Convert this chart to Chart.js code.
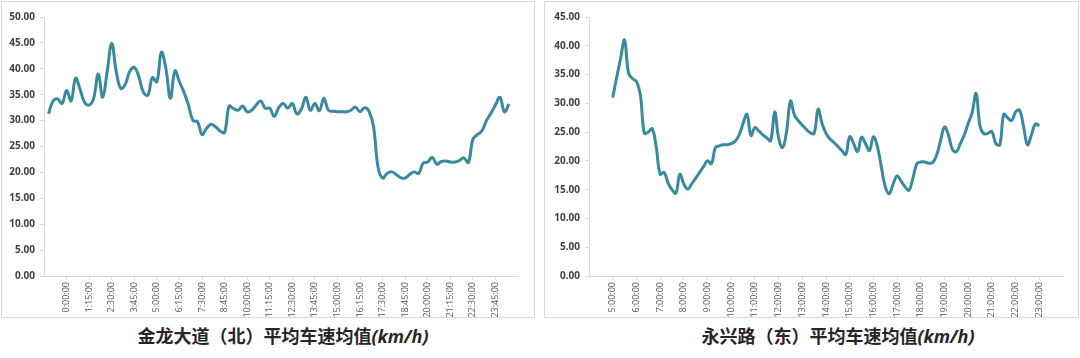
<!DOCTYPE html>
<html>
<head>
<meta charset="utf-8">
<script src="https://cdn.jsdelivr.net/npm/chart.js@4"></script>
<style>
  html, body { margin:0; padding:0; background:#ffffff; }
  body { width:1080px; height:358px; position:relative; overflow:hidden; }
  .box { position:absolute; border:1px solid #d9d9d9; box-sizing:border-box; }
  canvas { position:absolute; }
  .title { position:absolute; width:460px; text-align:center; font-family:"Noto Sans CJK SC", sans-serif; font-weight:700; font-size:18px; line-height:24px; color:#262626; white-space:nowrap; }
  .title i { font-family:"Open Sans","Liberation Sans",sans-serif; font-style:italic; font-weight:700; }
</style>
</head>
<body>
<div class="box" style="left:1px;top:1px;width:534px;height:317px;"></div>
<div class="box" style="left:544px;top:1px;width:535px;height:317px;"></div>
<canvas id="c1" width="536" height="318" style="left:0;top:0;"></canvas>
<canvas id="c2" width="536" height="318" style="left:544px;top:0;"></canvas>
<div class="title" style="left:53px;top:323px;">金龙大道（北）平均车速均值<i>(km/h)</i></div>
<div class="title" style="left:608px;top:323px;">永兴路（东）平均车速均值<i>(km/h)</i></div>
<script>
// ---------- Left chart: 金龙大道（北）, 15-minute samples ----------
const leftTitle = '金龙大道（北）平均车速均值(km/h)';
const leftTickLabels = ['0:00:00','1:15:00','2:30:00','3:45:00','5:00:00','6:15:00','7:30:00','8:45:00',
  '10:00:00','11:15:00','12:30:00','13:45:00','15:00:00','16:15:00','17:30:00','18:45:00',
  '20:00:00','21:15:00','22:30:00','23:45:00'];
// values from 23:00 (previous day) to 0:30 (next day), every 15 minutes
const leftValues = [
  31.3, 33.8, 34.2, 33.3,
  35.8, 33.8, 38.2, 36.0, 33.5, 33.0, 34.3, 39.0, 34.5, 39.5,
  44.9, 39.5, 36.2, 37.0, 39.5, 40.3, 38.5, 35.5, 34.9, 38.3,
  37.5, 43.2, 40.0, 34.3, 39.6, 37.5, 35.5, 33.0, 30.0, 29.8,
  27.3, 28.5, 29.3, 28.8, 28.0, 27.7, 32.8, 32.3, 32.0, 32.8,
  31.7, 32.0, 33.0, 33.8, 32.4, 32.4, 30.8, 32.5, 33.3, 32.4,
  33.3, 31.3, 32.2, 34.5, 32.0, 33.3, 31.9, 34.3, 32.0, 31.8,
  31.7, 31.7, 31.7, 32.0, 32.6, 31.7, 32.5, 31.8, 28.8, 21.0,
  18.9, 19.8, 20.1, 19.6, 19.0, 18.9, 19.6, 20.1, 19.8, 21.8,
  22.0, 22.9, 21.6, 22.1, 22.2, 22.0, 22.0, 22.3, 22.8, 21.9,
  26.4, 27.3, 28.0, 30.0, 31.4, 33.0, 34.5, 31.7, 33.2
];
const leftYMax = 50;

// ---------- Right chart: 永兴路（东）, 10-minute samples 5:00–23:00 ----------
const rightTitle = '永兴路（东）平均车速均值(km/h)';
const rightTickLabels = ['5:00:00','6:00:00','7:00:00','8:00:00','9:00:00','10:00:00','11:00:00',
  '12:00:00','13:00:00','14:00:00','15:00:00','16:00:00','17:00:00','18:00:00','19:00:00',
  '20:00:00','21:00:00','22:00:00','23:00:00'];
const rightValues = [
  31.0, 34.5, 37.8, 41.0, 35.3, 34.3,   // 5:00
  33.8, 31.5, 24.8, 25.0, 25.6, 22.5,   // 6:00
  17.7, 18.0, 16.2, 15.0, 14.4, 17.7,   // 7:00
  16.0, 15.1, 16.0, 17.0, 18.0, 19.0,   // 8:00
  20.0, 19.5, 22.3, 22.6, 22.8, 22.8,   // 9:00
  23.0, 23.4, 24.5, 26.5, 28.1, 24.4,   // 10:00
  25.8, 25.2, 24.5, 24.0, 23.5, 28.5,   // 11:00
  24.0, 22.3, 25.0, 30.4, 28.0, 27.0,   // 12:00
  26.2, 25.5, 24.9, 24.8, 29.0, 26.5,   // 13:00
  24.8, 23.8, 23.2, 22.5, 21.8, 21.1,   // 14:00
  24.2, 23.0, 21.6, 24.1, 23.0, 21.8,   // 15:00
  24.2, 22.5, 19.0, 15.5, 14.3, 16.0,   // 16:00
  17.4, 16.5, 15.5, 14.9, 17.0, 19.5,   // 17:00
  19.8, 19.8, 19.6, 19.7, 21.0, 23.5,   // 18:00
  25.9, 24.5, 22.0, 21.6, 23.0, 24.5,   // 19:00
  26.5, 28.4, 31.7, 26.0, 24.7, 24.8,   // 20:00
  25.1, 23.0, 22.8, 28.1, 27.5, 27.0,   // 21:00
  28.5, 28.8, 26.0, 22.8, 24.5, 26.4,   // 22:00
  26.1                                   // 23:00
];
const rightYMax = 45;

const lineColor = '#3a8a9f';
const axisColor = '#d9d9d9';

// left axis: 15-min slots from 23:45 (prev day) to 1:00 (next day); slot 0 = 0:00
const leftCategories = [];
for (let s = -5; s <= 100; s++) leftCategories.push(String(s));
const leftData = [null].concat(leftValues);
while (leftData.length < leftCategories.length) leftData.push(null);

// right axis: 10-min slots from 4:00 to 24:00
const rightCategories = [];
for (let i = 0; i <= 120; i++) rightCategories.push(String(i));
const rightData = [null, null, null, null, null, null].concat(rightValues);
while (rightData.length < rightCategories.length) rightData.push(null);

function makeChart(id, cats, data, yMax, tickFn, yWidth, padRight) {
  return new Chart(document.getElementById(id), {
    type: 'line',
    data: { labels: cats, datasets: [{ data: data, borderColor: lineColor, borderWidth: 3,
      pointRadius: 0, tension: 0.4, fill: false, spanGaps: false }] },
    options: {
      responsive: false, animation: false,
      layout: { padding: { top: 17, right: padRight, left: 0, bottom: 0 } },
      plugins: { legend: { display: false }, tooltip: { enabled: false }, title: { display: false } },
      scales: {
        x: {
          type: 'category', offset: false,
          border: { display: true, color: axisColor, width: 1 },
          grid: { display: true, drawOnChartArea: false, drawTicks: true, tickLength: 4, color: axisColor },
          ticks: { autoSkip: false, minRotation: 90, maxRotation: 90, padding: 2,
            font: { family: '"Open Sans", sans-serif', size: 9 }, color: '#595959',
            callback: tickFn },
          afterFit: (s) => { s.height = 42; }
        },
        y: {
          min: 0, max: yMax,
          border: { display: true, color: axisColor, width: 1 },
          grid: { display: true, drawOnChartArea: false, drawTicks: true, tickLength: 4, color: axisColor },
          ticks: { stepSize: 5, padding: 5, color: '#404040',
            font: { family: '"Open Sans", sans-serif', size: 10, weight: 'bold' },
            callback: (v) => Number(v).toFixed(2) },
          afterFit: (s) => { s.width = yWidth; }
        }
      }
    }
  });
}

makeChart('c1', leftCategories, leftData, leftYMax, (v, idx) => {
  const slot = idx - 5;
  if (slot >= 0 && slot % 5 === 0 && slot / 5 < leftTickLabels.length) return leftTickLabels[slot / 5];
  return null;
}, 44, 18);

makeChart('c2', rightCategories, rightData, rightYMax, (v, idx) => {
  if (idx % 6 === 0) {
    const h = idx / 6 - 1;
    if (h >= 0 && h < rightTickLabels.length) return rightTickLabels[h];
  }
  return null;
}, 45, 17);
</script>
</body>
</html>
